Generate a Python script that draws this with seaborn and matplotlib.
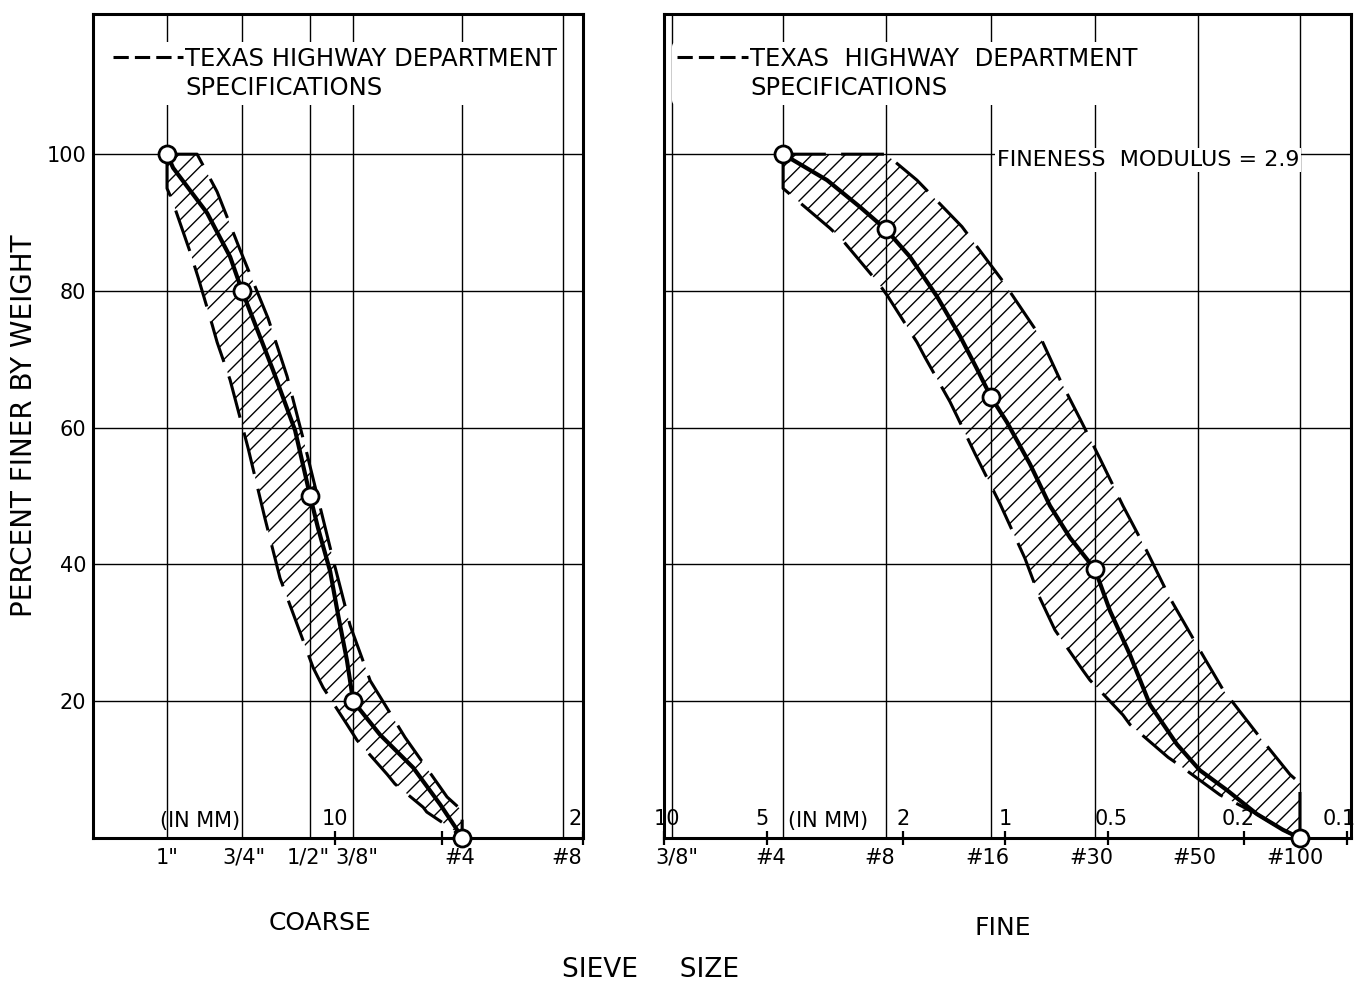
import matplotlib
matplotlib.use("Agg")
import matplotlib.pyplot as plt
import matplotlib.transforms as mtransforms
from matplotlib.lines import Line2D
import seaborn as sns

# ---------------- data ----------------
pct_ticks = [20, 40, 60, 80, 100]

# Left panel: coarse aggregate (x positions in mm as drawn on the log scale)
coarse_sieve_labels = ['1"', '3/4"', '1/2"', '3/8"', '#4', '#8']
coarse_sieve_mm = [29.7, 18.25, 11.74, 8.88, 4.38, 2.28]
coarse_mm_ticks = [10, 5, 2]
coarse_mm_labels = ['10', '', '2']

coarse_point_mm = [29.7, 18.25, 11.74, 8.88, 4.38]
coarse_point_pct = [100, 80, 50, 20, 0]

coarse_curve_mm = [29.7, 28.55, 22.9, 19.73, 18.25, 16.56, 14.93, 12.94, 11.74,
                   11.15, 10.31, 9.79, 9.24, 8.88, 7.46, 6.02, 5.05, 4.58, 4.38]
coarse_curve_pct = [100, 98, 91.4, 85, 80, 74.4, 68.4, 59.6, 50,
                    45.3, 39, 32.6, 25.9, 20, 15.1, 10.3, 4.9, 1.6, 0]

coarse_upper_mm = [29.7, 24.43, 21.46, 18.49, 15.42, 13.63, 12.13, 10.18, 9.06,
                   7.95, 6.34, 4.83, 4.38, 4.38]
coarse_upper_pct = [100, 100, 94.5, 86, 76, 67.5, 57.3, 41.3, 31.1,
                    23, 14.7, 6, 4, 0]

coarse_lower_mm = [29.7, 29.7, 28.74, 25.57, 24.28, 22.17, 21.46, 19.73, 17.55,
                   15.73, 14.27, 11.51, 10.79, 9.24, 8.66, 7.12, 6.77, 5.64,
                   5.51, 4.64, 4.38]
coarse_lower_pct = [100, 95, 93.3, 85.7, 82, 75.1, 72.5, 67, 57,
                    46.7, 38, 24.9, 22, 16.6, 14.3, 9.3, 7.9, 4.5,
                    3.8, 1.2, 0]

# Right panel: fine aggregate
fine_sieve_labels = ['3/8"', '#4', '#8', '#16', '#30', '#50', '#100']
fine_sieve_mm = [9.5, 4.48, 2.24, 1.103, 0.547, 0.273, 0.1373]
fine_mm_ticks = [10, 5, 2, 1, 0.5, 0.2, 0.1]
fine_mm_labels = ['10', '5', '2', '1', '0.5', '0.2', '0.1']

fine_point_mm = [4.48, 2.24, 1.103, 0.547, 0.1373]
fine_point_pct = [100, 89, 64.5, 39.3, 0]

fine_curve_mm = [4.48, 3.33, 2.67, 2.24, 1.904, 1.587, 1.359, 1.212, 1.103,
                 0.990, 0.848, 0.741, 0.647, 0.547, 0.494, 0.432, 0.3775,
                 0.3147, 0.2695, 0.2246, 0.1835, 0.154, 0.1373]
fine_curve_pct = [100, 96.2, 92.3, 89, 85, 79.2, 73.4, 68.6, 64.5,
                  60.8, 54.7, 48.6, 43.9, 39.3, 33.2, 26.8, 19.5,
                  13.7, 9.9, 7, 3.5, 1.2, 0]

fine_upper_mm = [4.48, 2.24, 1.816, 1.341, 1.017, 0.793, 0.692, 0.605, 0.529,
                 0.453, 0.385, 0.330, 0.275, 0.2307, 0.1823, 0.1469, 0.1373, 0.1373]
fine_upper_pct = [100, 100, 96.2, 89.4, 81.4, 73.4, 67, 61.3, 55.5,
                  48.6, 41.9, 35.1, 28.2, 21.7, 15.1, 9.3, 8, 0]

fine_lower_mm = [4.48, 4.48, 3.27, 3.01, 2.36, 2.21, 1.816, 1.721, 1.454, 1.387,
                 1.228, 1.038, 0.877, 0.793, 0.716, 0.593, 0.566, 0.453, 0.432,
                 0.334, 0.3126, 0.2354, 0.1835, 0.154, 0.1373]
fine_lower_pct = [100, 95, 89.2, 87.5, 81.2, 79.2, 72.5, 70.3, 63.8, 61.7,
                  56.2, 48.9, 40.9, 35.1, 30.4, 24.5, 23.1, 18, 16.6,
                  11.8, 10.8, 6.3, 3.5, 1.2, 0]

# ---------------- style ----------------
sns.set_theme(style="white")
plt.rcParams['font.family'] = ['DejaVu Sans']
plt.rcParams['hatch.linewidth'] = 1.0
plt.rcParams['hatch.color'] = 'black'

W, H = 1361, 981
fig = plt.figure(figsize=(W / 100, H / 100), dpi=100)
fig.patch.set_facecolor('white')
axL = fig.add_axes([93 / W, 1 - 838 / H, 490 / W, 824 / H])
axR = fig.add_axes([664 / W, 1 - 838 / H, 687 / W, 824 / H])

DASH = (0, (14, 5))


def draw_panel(ax, xlim, sieve_mm, sieve_labels, mm_ticks, mm_labels,
               curve_mm, curve_pct, pt_mm, pt_pct, up_mm, up_pct, lo_mm, lo_pct):
    ax.set_xscale('log')
    ax.set_xlim(*xlim)
    ax.set_ylim(0, 120.5)
    ax.set_xticks(sieve_mm, labels=sieve_labels)
    ax.set_xticks(mm_ticks, labels=mm_labels, minor=True)
    ax.set_yticks(pct_ticks)
    ax.grid(True, which='major', color='black', lw=1.0)
    ax.grid(False, which='minor')
    ax.set_axisbelow(True)
    for s in ax.spines.values():
        s.set_color('black')
        s.set_linewidth(2.2)
    ax.tick_params(axis='x', which='major', bottom=True, length=0, pad=7,
                   labelsize=15, colors='black')
    ax.tick_params(axis='x', which='minor', bottom=True, direction='inout',
                   length=10, width=1.6, pad=-26, labelsize=15, colors='black')
    ax.tick_params(axis='y', length=0, pad=5, labelsize=15, colors='black')

    # hatched specification band
    poly_x = list(up_mm) + list(lo_mm)[::-1]
    poly_y = list(up_pct) + list(lo_pct)[::-1]
    ax.fill(poly_x, poly_y, facecolor='none', edgecolor='black', hatch='//',
            linewidth=0, zorder=2)
    ax.plot(up_mm, up_pct, color='black', lw=2.2, ls=DASH, zorder=3)
    ax.plot(lo_mm, lo_pct, color='black', lw=2.2, ls=DASH, zorder=3)

    sns.lineplot(x=curve_mm, y=curve_pct, ax=ax, sort=False, color='black',
                 lw=3, zorder=4)
    sns.scatterplot(x=pt_mm, y=pt_pct, ax=ax, s=150, facecolor='white',
                    edgecolor='black', linewidth=2, zorder=5, clip_on=False)
    ax.set_xlabel('')
    ax.set_ylabel('')


draw_panel(axL, (48, 2.0), coarse_sieve_mm, coarse_sieve_labels,
           coarse_mm_ticks, coarse_mm_labels, coarse_curve_mm, coarse_curve_pct,
           coarse_point_mm, coarse_point_pct, coarse_upper_mm, coarse_upper_pct,
           coarse_lower_mm, coarse_lower_pct)
draw_panel(axR, (10.0, 0.0973), fine_sieve_mm, fine_sieve_labels,
           fine_mm_ticks, fine_mm_labels, fine_curve_mm, fine_curve_pct,
           fine_point_mm, fine_point_pct, fine_upper_mm, fine_upper_pct,
           fine_lower_mm, fine_lower_pct)

axR.tick_params(axis='y', labelleft=False)
axL.set_ylabel('PERCENT FINER BY WEIGHT', fontsize=20, labelpad=6,
               color='black')


# small horizontal nudges of some tick labels (as lettered on the original)
def nudge(labels, shifts_px):
    for lab, dx in zip(labels, shifts_px):
        if dx:
            lab.set_transform(lab.get_transform() +
                              mtransforms.ScaledTranslation(dx / 100, 0,
                                                            fig.dpi_scale_trans))


nudge(axL.get_xticklabels(), [0, 2, -2, 4, -2, 4])
nudge(axL.get_xticklabels(minor=True), [0, 0, -8])
nudge(axR.get_xticklabels(), [5, -12, -6, -3, -4, -4, -5])
nudge(axR.get_xticklabels(minor=True), [3, -5, 0, 0, 3, -6, -8])


# legends
def spec_legend(ax, anchor, text1):
    handles = [Line2D([], [], color='black', lw=2.2, ls=(0, (5, 2))),
               Line2D([], [], color='none')]
    leg = ax.legend(handles, [text1, 'SPECIFICATIONS'], loc='upper left',
                    bbox_to_anchor=anchor, frameon=True, facecolor='white',
                    edgecolor='none', framealpha=1, fontsize=17.5,
                    handlelength=2.9, handletextpad=0.1, labelspacing=0.2,
                    borderpad=0.2, borderaxespad=0)
    for t in leg.get_texts():
        t.set_color('black')
    leg.set_zorder(6)


spec_legend(axL, (0.03, 0.966), 'TEXAS HIGHWAY DEPARTMENT')
spec_legend(axR, (0.012, 0.966), 'TEXAS  HIGHWAY  DEPARTMENT')

# annotations
axR.text(1.059, 99.2, 'FINENESS  MODULUS = 2.9', ha='left', va='center',
         fontsize=16, color='black', zorder=6,
         bbox=dict(facecolor='white', edgecolor='none', pad=1.5))
axL.text(23.97, 1.0, '(IN MM)', ha='center', va='bottom', fontsize=15,
         color='black', zorder=6)
axR.text(3.31, 1.0, '(IN MM)', ha='center', va='bottom', fontsize=15,
         color='black', zorder=6)

fig.text(320 / W, 1 - 923 / H, 'COARSE', ha='center', va='center',
         fontsize=18, color='black')
fig.text(1003 / W, 1 - 928 / H, 'FINE', ha='center', va='center',
         fontsize=18, color='black')
fig.text(650 / W, 1 - 970 / H, 'SIEVE     SIZE', ha='center', va='center',
         fontsize=19, color='black')

fig.savefig('out.png', dpi=100, facecolor='white')
